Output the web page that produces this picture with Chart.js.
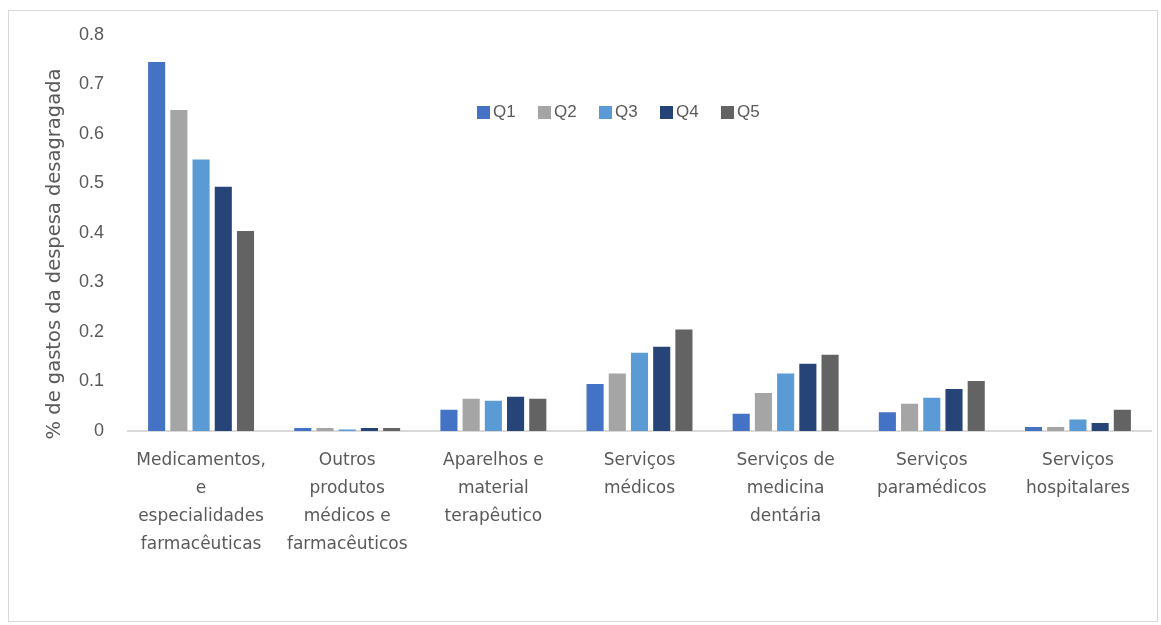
<!DOCTYPE html>
<html>
<head>
<meta charset="utf-8">
<script src="https://cdn.jsdelivr.net/npm/chart.js@4.4.1/dist/chart.umd.min.js"></script>
<style>
  html, body { margin: 0; padding: 0; background: #fff; }
  #wrap { position: relative; width: 1161px; height: 625px; }
  #frame { position: absolute; left: 8px; top: 10px; width: 1150px; height: 612px; border: 1px solid #d9d9d9; box-sizing: border-box; }
  canvas { position: absolute; left: 0; top: 0; }
</style>
</head>
<body>
<div id="wrap">
  <div id="frame"></div>
  <canvas id="gastosChart" width="1161" height="625"></canvas>
</div>
<script>
/* ------------------------------------------------------------
   Dados
------------------------------------------------------------ */
const categorias = [
    ['Medicamentos,', 'e', 'especialidades', 'farmacêuticas'],
    ['Outros', 'produtos', 'médicos e', 'farmacêuticos'],
    ['Aparelhos e', 'material', 'terapêutico'],
    ['Serviços', 'médicos'],
    ['Serviços de', 'medicina', 'dentária'],
    ['Serviços', 'paramédicos'],
    ['Serviços', 'hospitalares']
];

const q1 = [0.747, 0.008, 0.045, 0.097, 0.037, 0.040, 0.010];
const q2 = [0.650, 0.008, 0.067, 0.118, 0.079, 0.057, 0.010];
const q3 = [0.550, 0.005, 0.063, 0.160, 0.118, 0.069, 0.025];
const q4 = [0.495, 0.008, 0.071, 0.172, 0.138, 0.087, 0.018];
const q5 = [0.406, 0.008, 0.067, 0.207, 0.156, 0.103, 0.045];

const quintis = ['Q1', 'Q2', 'Q3', 'Q4', 'Q5'];
const cores   = ['#4472c4', '#a5a5a5', '#5b9bd5', '#264478', '#636363'];

const tituloY = '% de gastos da despesa desagragada';

const FONTE  = '"Liberation Sans", Arial, sans-serif';
const FONTE2 = '"DejaVu Sans", sans-serif';
const CINZA  = '#595959';

/* ------------------------------------------------------------
   Legenda dentro da área + título do eixo Y
------------------------------------------------------------ */
const extras = {
    id: 'extras',
    afterDraw(chart) {
        const ctx = chart.ctx;
        ctx.save();
        ctx.font = '17px ' + FONTE;
        ctx.textBaseline = 'middle';
        let x = 477;
        const y = 112;
        chart.data.datasets.forEach(ds => {
            ctx.fillStyle = ds.backgroundColor;
            ctx.fillRect(x, y - 6, 13, 13);
            ctx.fillStyle = CINZA;
            ctx.fillText(ds.label, x + 16, y);
            x += 61;
        });

        // título vertical, ligeiramente abaixo do centro como no original
        ctx.translate(55, 254);
        ctx.rotate(-Math.PI / 2);
        ctx.font = '19.5px ' + FONTE2;
        ctx.textAlign = 'center';
        ctx.fillStyle = CINZA;
        ctx.fillText(tituloY, 0, 0);
        ctx.restore();
    }
};

/* ------------------------------------------------------------
   Gráfico
------------------------------------------------------------ */
const series = [q1, q2, q3, q4, q5];
const datasets = quintis.map((q, i) => ({
    label: q,
    data: series[i],
    backgroundColor: cores[i],
    borderColor: 'rgba(255,255,255,0.6)',
    borderWidth: 1,
    categoryPercentage: 0.76,
    barPercentage: 0.86
}));

new Chart(document.getElementById('gastosChart').getContext('2d'), {
    type: 'bar',
    data: { labels: categorias, datasets },
    options: {
        responsive: false,
        animation: false,
        layout: { padding: { left: 38, right: 10, top: 31, bottom: 50 } },
        plugins: { legend: { display: false }, tooltip: { enabled: false } },
        scales: {
            x: {
                grid: { display: false, drawTicks: false },
                border: { color: '#d9d9d9', width: 2 },
                ticks: {
                    color: CINZA,
                    font: { family: FONTE2, size: 17, lineHeight: '28px' },
                    padding: 16,
                    maxRotation: 0,
                    autoSkip: false
                }
            },
            y: {
                min: 0,
                max: 0.8,
                grid: { display: false, drawTicks: false },
                border: { display: false },
                afterFit(scale) { scale.width = 90; },
                ticks: {
                    stepSize: 0.1,
                    color: CINZA,
                    font: { family: FONTE, size: 18 },
                    padding: 24,
                    callback: v => Math.round(v * 10) / 10
                }
            }
        }
    },
    plugins: [extras]
});
</script>
</body>
</html>
